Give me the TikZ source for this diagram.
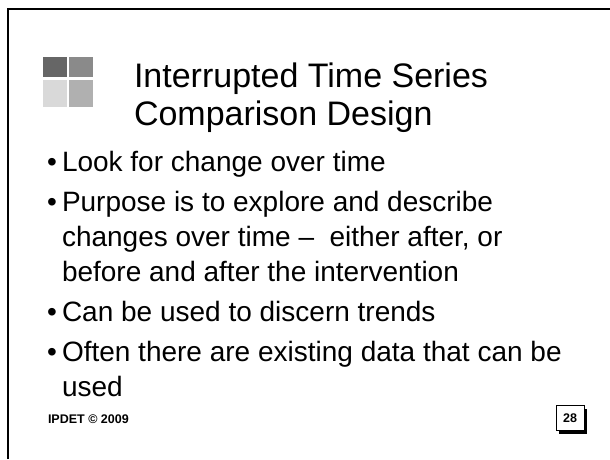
\documentclass[tikz,border=0pt]{standalone}
\usepackage{fontspec}
\setmainfont{Liberation Sans}
\usetikzlibrary{positioning,shadows}

\begin{document}
\begin{tikzpicture}[x=1pt, y=-1pt,
  every node/.style={inner sep=0pt, outer sep=0pt},
  heading/.style={anchor=base west, align=left, font=\fontsize{34}{38}\selectfont},
  point/.style={anchor=base west, align=left, font=\fontsize{28}{35}\selectfont},
  dot/.style={anchor=base west, font=\fontsize{28}{35}\selectfont},
  tile/.style={anchor=north west, minimum width=23.5pt},
  foot/.style={anchor=base west, font=\bfseries\fontsize{12.5}{14}\selectfont},
  pagebox/.style={draw, line width=0.8pt, fill=white, minimum width=28pt, minimum height=25pt,
    font=\bfseries\fontsize{12.5}{14}\selectfont,
    drop shadow={shadow xshift=3pt, shadow yshift=-3pt, opacity=1, fill=black}}
]
\useasboundingbox (0,0) rectangle (610,459);
\fill[white] (0,0) rectangle (610,459);

% slide frame
\draw[line width=2pt] (8,459) -- (8,9) -- (610,9);

% title icon
\node[tile, minimum height=20pt, fill=black!60] (tileA) at (43,57) {};
\node[tile, minimum height=20pt, fill=black!46] (tileB) at (69,57) {};
\node[tile, minimum height=27pt, fill=black!15] (tileC) at (43,80) {};
\node[tile, minimum height=27pt, fill=black!31] (tileD) at (69,80) {};

% title (base anchor = last line)
\node[heading] (title) at (134,125) {Interrupted Time Series\\Comparison Design};

% bullets
\node[dot] (dotA) at (47,171) {•};
\node[point] (itemA) at (62,171) {Look for change over time};
\node[dot] (dotB) at (47,211) {•};
\node[point] (itemB) at (62,281) {Purpose is to explore and describe\\changes over time –\ \ either after, or\\before and after the intervention};
\node[dot] (dotC) at (47,321) {•};
\node[point] (itemC) at (62,321) {Can be used to discern trends};
\node[dot] (dotD) at (47,361) {•};
\node[point] (itemD) at (62,396) {Often there are existing data that can be\\used};

% footer
\node[foot] (credit) at (48,423) {IPDET © 2009};
\node[pagebox] (pagenum) at (570,418) {28};
\end{tikzpicture}
\end{document}
